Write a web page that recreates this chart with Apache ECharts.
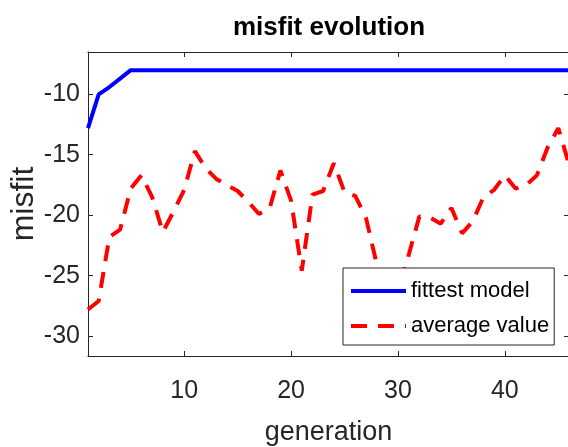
<!DOCTYPE html>
<html>
<head>
<meta charset="utf-8">
<script src="https://cdn.jsdelivr.net/npm/echarts@6/dist/echarts.min.js"></script>
<style>
html,body{margin:0;padding:0;background:#fff;}
#chart{width:568px;height:447px;}
</style>
</head>
<body>
<div id="chart"></div>
<script>
const titleText = 'misfit evolution';
const xName = 'generation';
const yName = 'misfit';
const seriesNames = ['fittest model', 'average value'];
const generation = [1,2,3,4,5,6,7,8,9,10,11,12,13,14,15,16,17,18,19,20,21,22,23,24,25,26,27,28,29,30,31,32,33,34,35,36,37,38,39,40,41,42,43,44,45,46];
const fittestModel = [-12.8,-10.0,-9.4,-8.7,-8.0,-8.0,-8.0,-8.0,-8.0,-8.0,-8.0,-8.0,-8.0,-8.0,-8.0,-8.0,-8.0,-8.0,-8.0,-8.0,-8.0,-8.0,-8.0,-8.0,-8.0,-8.0,-8.0,-8.0,-8.0,-8.0,-8.0,-8.0,-8.0,-8.0,-8.0,-8.0,-8.0,-8.0,-8.0,-8.0,-8.0,-8.0,-8.0,-8.0,-8.0,-8.0];
const averageValue = [-27.8,-27.1,-21.8,-21.2,-17.8,-16.7,-18.5,-21.4,-19.7,-17.9,-14.7,-16.1,-17.0,-17.5,-18.0,-18.9,-19.9,-19.4,-16.3,-18.8,-24.6,-18.3,-18.0,-15.7,-18.1,-18.4,-20.2,-24.0,-27.0,-26.3,-23.3,-20.1,-20.2,-20.7,-19.4,-21.5,-20.5,-18.5,-17.9,-16.7,-17.8,-17.5,-16.7,-14.4,-12.8,-15.8];
const xTicks = [10, 20, 30, 40];
const yTicks = [-30, -25, -20, -15, -10];
const xRange = [1, 46];
const yRange = [-31.65, -6.5];

const FONT = "'Liberation Sans', Arial, Helvetica, sans-serif";
const AX = '#262626';

const chart = echarts.init(document.getElementById('chart'), null, {renderer: 'canvas'});

const pairs = (xs, ys) => xs.map((x, i) => [x, ys[i]]);

const baseX = {
  type: 'value', min: xRange[0], max: xRange[1],
  splitLine: {show: false},
  axisLine: {show: true, onZero: false, lineStyle: {color: AX, width: 1}},
  axisTick: {show: true, inside: true, length: 5, customValues: xTicks, lineStyle: {color: AX, width: 1}}
};
const baseY = {
  type: 'value', min: yRange[0], max: yRange[1],
  splitLine: {show: false},
  axisLine: {show: true, onZero: false, lineStyle: {color: AX, width: 1}},
  axisTick: {show: true, inside: true, length: 5, customValues: yTicks, lineStyle: {color: AX, width: 1}}
};

chart.setOption({
  animation: false,
  backgroundColor: '#ffffff',
  grid: {left: 88, top: 52, width: 481, height: 304, containLabel: false, outerBoundsMode: 'none'},
  graphic: [{
    type: 'text', x: 329, y: 28,
    style: {text: titleText, font: 'bold 26px ' + FONT, fill: '#000', textAlign: 'center', textVerticalAlign: 'middle'}
  }],
  legend: {
    orient: 'vertical', left: 343, top: 268, z: 10,
    padding: [12, 5, 8, 6],
    backgroundColor: '#ffffff', borderColor: AX, borderWidth: 1,
    itemWidth: 55, itemHeight: 20, itemGap: 13, itemTextGap: 5,
    itemStyle: {opacity: 0, borderWidth: 0},
    lineStyle: {width: 4},
    textStyle: {fontFamily: FONT, fontSize: 22, color: '#000', lineHeight: 22},
    data: seriesNames
  },
  xAxis: [
    Object.assign({}, baseX, {
      position: 'bottom',
      name: xName, nameLocation: 'middle', nameGap: 63, nameMoveOverlap: false,
      nameTextStyle: {fontFamily: FONT, fontSize: 27, color: AX},
      axisLabel: {show: true, margin: 23, customValues: xTicks, fontFamily: FONT, fontSize: 25, color: AX}
    }),
    Object.assign({}, baseX, {position: 'top', axisLabel: {show: false}})
  ],
  yAxis: [
    Object.assign({}, baseY, {
      position: 'left',
      name: yName, nameLocation: 'middle', nameGap: 48, nameRotate: 90, nameMoveOverlap: false,
      nameTextStyle: {fontFamily: FONT, fontSize: 32, color: AX},
      axisLabel: {show: true, margin: 8, customValues: yTicks, fontFamily: FONT, fontSize: 25, color: AX}
    }),
    Object.assign({}, baseY, {position: 'right', axisLabel: {show: false}})
  ],
  series: [
    {
      name: seriesNames[0], type: 'line', xAxisIndex: 0, yAxisIndex: 0,
      data: pairs(generation, fittestModel),
      symbol: 'none', smooth: false,
      lineStyle: {color: '#0000ff', width: 4},
      itemStyle: {color: '#0000ff'}
    },
    {
      name: seriesNames[1], type: 'line', xAxisIndex: 0, yAxisIndex: 0,
      data: pairs(generation, averageValue),
      symbol: 'none', smooth: false,
      lineStyle: {color: '#ff0000', width: 4, type: [16, 11]},
      itemStyle: {color: '#ff0000'}
    }
  ]
});
</script>
</body>
</html>
